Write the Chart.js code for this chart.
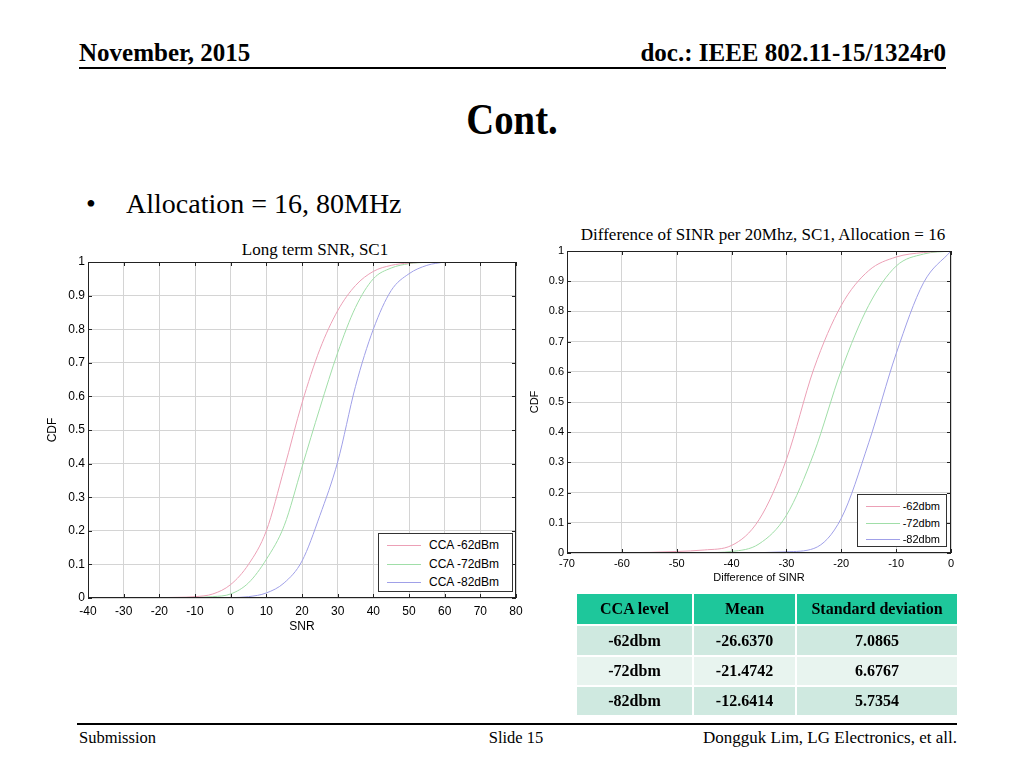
<!DOCTYPE html>
<html lang="en">
<head>
<meta charset="UTF-8">
<title>Cont.</title>
<script src="https://cdn.jsdelivr.net/npm/chart.js"></script>
<style>
  body { margin: 0; width: 1024px; height: 768px; position: relative; background: #fff; overflow: hidden;
         font-family: "Liberation Serif", "Times New Roman", serif; color: #000; }
  .t { position: absolute; line-height: 1; white-space: nowrap; }
  .hline { position: absolute; background: #000; }
  canvas { position: absolute; }
  .ctitle { position: absolute; width: 500px; text-align: center; font-size: 17px; line-height: 1; white-space: nowrap; }
  .legend { position: absolute; background: #fff; border: 1px solid #333; box-sizing: border-box;
            font-family: "Liberation Sans", Arial, sans-serif; color: #000; }
  .lg-line { position: absolute; border-top: 1px solid; }
  #tbl { position: absolute; left: 575px; top: 592px; border-collapse: separate; border-spacing: 2px;
         font-weight: bold; font-size: 16px; text-align: center; }
  #tbl th { background: #1ec79b; height: 30px; padding: 0; }
  #tbl td { padding: 0; }
  #tbl tr.odd td { background: #cfe9e0; }
  #tbl tr.even td { background: #e8f4ef; }
</style>
</head>
<body>

<div class="t" style="left:79px; top:40px; font-size:25px; font-weight:bold;">November, 2015</div>
<div class="t" style="right:78px; top:40px; font-size:25px; font-weight:bold;">doc.: IEEE 802.11-15/1324r0</div>
<div class="hline" style="left:79px; top:67px; width:867px; height:2px;"></div>

<div class="t" style="left:0; width:1024px; text-align:center; top:98px; font-size:44px; font-weight:bold; transform:scaleX(0.88);">Cont.</div>

<div class="t" style="left:86px; top:190px; font-size:28px;">•</div>
<div class="t" style="left:126px; top:190px; font-size:28px;">Allocation = 16, 80MHz</div>

<div class="ctitle" style="left:65px; top:241px;">Long term SNR, SC1</div>
<div class="ctitle" style="left:513px; top:226px;">Difference of SINR per 20Mhz, SC1, Allocation = 16</div>

<canvas id="snrChart" width="490" height="401" style="left:40px; top:239px;"></canvas>
<canvas id="sinrChart" width="440" height="366" style="left:520px; top:224px;"></canvas>

<div id="lg1" class="legend" style="left:378px; top:533px; width:135px; height:59px; font-size:12px;"></div>
<div id="lg2" class="legend" style="left:857px; top:494px; width:90px; height:53px; font-size:11px;"></div>

<table id="tbl">
  <thead><tr><th style="width:115px">CCA level</th><th style="width:101px">Mean</th><th style="width:160px">Standard deviation</th></tr></thead>
  <tbody id="tbody"></tbody>
</table>

<div class="hline" style="left:77px; top:723px; width:880px; height:2px;"></div>
<div class="t" style="left:79px; top:730px; font-size:16.5px;">Submission</div>
<div class="t" style="left:0; width:1032px; text-align:center; top:730px; font-size:16.5px;">Slide 15</div>
<div class="t" style="right:67px; top:729px; font-size:17px;">Dongguk Lim, LG Electronics, et all.</div>

<script>
// left chart: Long term SNR, SC1
const snrX = [-35, -30, -25, -20, -15, -10, -5, 0, 5, 10, 15, 20, 25, 30, 35, 40, 45, 50, 55, 60];
const snr62 = [0, 0, 0.001, 0.001, 0.002, 0.004, 0.012, 0.04, 0.1, 0.2, 0.385, 0.58, 0.74, 0.855, 0.93, 0.972, 0.99, 0.997, 0.999, 1];
const snr72 = [0, 0, 0, 0, 0.001, 0.002, 0.004, 0.012, 0.045, 0.115, 0.215, 0.39, 0.565, 0.73, 0.865, 0.95, 0.982, 0.995, 0.999, 1];
const snr82 = [0, 0, 0, 0, 0, 0, 0, 0.001, 0.004, 0.015, 0.045, 0.11, 0.245, 0.405, 0.63, 0.8, 0.915, 0.965, 0.99, 1];
const snrLabels = ['CCA -62dBm', 'CCA -72dBm', 'CCA -82dBm'];

// right chart: Difference of SINR per 20Mhz
const sinrX = [-65, -60, -55, -50, -45, -40, -35, -30, -25, -20, -15, -10, -5, 0];
const sinr62 = [0, 0.001, 0.002, 0.005, 0.01, 0.025, 0.11, 0.31, 0.61, 0.82, 0.935, 0.98, 0.995, 1];
const sinr72 = [0, 0, 0, 0, 0.001, 0.005, 0.03, 0.125, 0.33, 0.605, 0.82, 0.95, 0.99, 1];
const sinr82 = [0, 0, 0, 0, 0, 0, 0.001, 0.004, 0.015, 0.115, 0.365, 0.66, 0.895, 1];
const sinrLabels = ['-62dbm', '-72dbm', '-82dbm'];

// table
const tblLevels = ['-62dbm', '-72dbm', '-82dbm'];
const tblMean = ['-26.6370', '-21.4742', '-12.6414'];
const tblStd = ['7.0865', '6.6767', '5.7354'];

const lineColors = ['rgb(236,160,182)', 'rgb(160,222,168)', 'rgb(160,160,232)'];
const sans = '"Liberation Sans", Arial, sans-serif';

const pts = (xs, ys) => xs.map((v, i) => ({x: v, y: ys[i]}));

// matlab style box with small inward ticks on every side
const matlabBox = {
  id: 'matlabBox',
  afterDraw(chart) {
    const {ctx, chartArea: a, scales} = chart;
    const x = scales.x, y = scales.y;
    ctx.save();
    ctx.strokeStyle = '#222';
    ctx.lineWidth = 1;
    ctx.strokeRect(Math.round(a.left) + 0.5, Math.round(a.top) + 0.5, Math.round(a.width) - 1, Math.round(a.height) - 1);
    ctx.beginPath();
    x.ticks.forEach(t => {
      const px = Math.round(x.getPixelForValue(t.value)) + 0.5;
      ctx.moveTo(px, a.bottom); ctx.lineTo(px, a.bottom - 4);
      ctx.moveTo(px, a.top); ctx.lineTo(px, a.top + 4);
    });
    y.ticks.forEach(t => {
      const py = Math.round(y.getPixelForValue(t.value)) + 0.5;
      ctx.moveTo(a.left, py); ctx.lineTo(a.left + 4, py);
      ctx.moveTo(a.right, py); ctx.lineTo(a.right - 4, py);
    });
    ctx.stroke();
    ctx.restore();
  }
};

function makeChart(id, o) {
  const datasets = o.series.map((s, i) => ({
    label: o.labels[i],
    data: pts(o.xs, s),
    borderColor: lineColors[i],
    borderWidth: 1,
    pointRadius: 0,
    cubicInterpolationMode: 'monotone'
  }));
  return new Chart(document.getElementById(id), {
    type: 'line',
    data: {datasets: datasets},
    plugins: [matlabBox],
    options: {
      responsive: false,
      animation: false,
      layout: {padding: {left: 0, right: o.padRight, top: o.padTop, bottom: 0}},
      plugins: {
        legend: {display: false},
        tooltip: {enabled: false}
      },
      scales: {
        x: {
          type: 'linear', min: o.xMin, max: o.xMax,
          ticks: {stepSize: 10, color: '#000', font: {family: sans, size: o.fs}, padding: o.xPad, maxRotation: 0},
          grid: {color: '#d4d4d4', drawTicks: false},
          border: {display: false},
          title: {display: true, text: o.xTitle, color: '#000', font: {family: sans, size: o.fs}, padding: {top: 0, bottom: o.xTitlePad}},
          afterFit: s => { s.height = o.xHeight; }
        },
        y: {
          min: 0, max: 1,
          ticks: {stepSize: 0.1, color: '#000', font: {family: sans, size: o.fs}, padding: 3,
                  callback: v => String(Number(v.toFixed(2)))},
          grid: {color: '#d4d4d4', drawTicks: false},
          border: {display: false},
          title: {display: true, text: 'CDF', color: '#000', font: {family: sans, size: o.fs}, padding: {top: o.yTitlePad, bottom: 0}},
          afterFit: s => { s.width = o.yWidth; }
        }
      }
    }
  });
}

const c1 = makeChart('snrChart', {
  xs: snrX, series: [snr62, snr72, snr82], labels: snrLabels,
  xTitle: 'SNR', xMin: -40, xMax: 80,
  fs: 12, padRight: 14, padTop: 23, xPad: 6, xTitlePad: 6, xHeight: 42, yWidth: 48, yTitlePad: 5
});
const c2 = makeChart('sinrChart', {
  xs: sinrX, series: [sinr62, sinr72, sinr82], labels: sinrLabels,
  xTitle: 'Difference of SINR', xMin: -70, xMax: 0,
  fs: 11, padRight: 9, padTop: 27, xPad: 4, xTitlePad: 5, xHeight: 37, yWidth: 47, yTitlePad: 8
});

// legends built from the chart datasets
function buildLegend(chart, el, rowH, padTop, lineLeft, textPos) {
  chart.data.datasets.forEach((ds, i) => {
    const row = document.createElement('div');
    row.style.position = 'absolute';
    row.style.left = '0'; row.style.right = '0';
    row.style.top = (padTop + i * rowH) + 'px';
    row.style.height = rowH + 'px';
    row.style.lineHeight = rowH + 'px';
    const ln = document.createElement('span');
    ln.className = 'lg-line';
    ln.style.borderTopColor = ds.borderColor;
    ln.style.left = lineLeft + 'px';
    ln.style.width = '34px';
    ln.style.top = Math.round(rowH / 2) + 'px';
    const tx = document.createElement('span');
    tx.textContent = ds.label;
    tx.style.position = 'absolute';
    Object.assign(tx.style, textPos);
    row.append(ln, tx);
    el.appendChild(row);
  });
}
buildLegend(c1, document.getElementById('lg1'), 18.5, 2, 8, {left: '50px'});
buildLegend(c2, document.getElementById('lg2'), 16.5, 3, 8, {right: '6px'});

const tbody = document.getElementById('tbody');
const rowH = [29, 28, 28];
tblLevels.forEach((lv, i) => {
  const tr = document.createElement('tr');
  tr.className = i % 2 === 0 ? 'odd' : 'even';
  [lv, tblMean[i], tblStd[i]].forEach(v => {
    const td = document.createElement('td');
    td.textContent = v;
    td.style.height = rowH[i] + 'px';
    tr.appendChild(td);
  });
  tbody.appendChild(tr);
});
</script>
</body>
</html>
